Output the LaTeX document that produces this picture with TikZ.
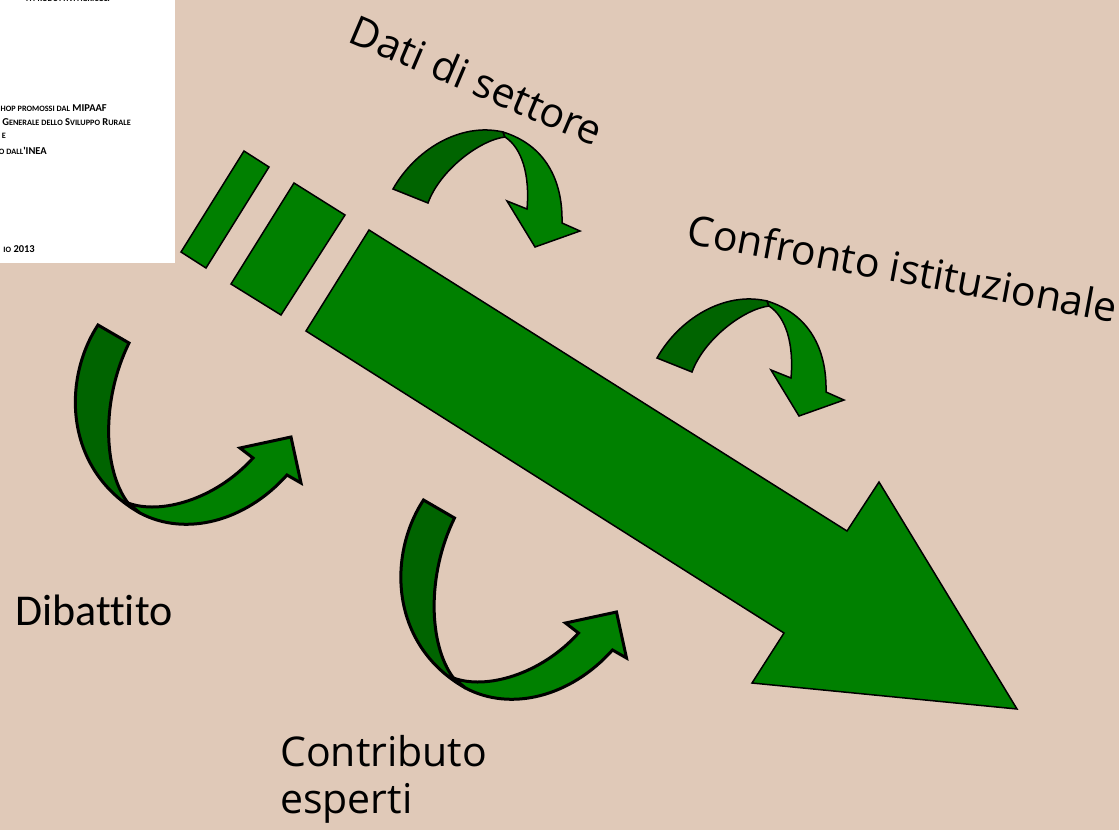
\documentclass[tikz,border=0pt]{standalone}
\usepackage{fontspec}
\setmainfont{Open Sans}
\newfontfamily\carlito[Ligatures=NoCommon]{Carlito}
\definecolor{bg}{RGB}{224,201,184}
\definecolor{grn}{RGB}{0,128,0}
\definecolor{dgrn}{RGB}{0,100,0}
\newcommand\smc[1]{{\fontsize{8.2}{8.2}\selectfont #1}}
\newcommand\topcurl[1]{%
  \filldraw[backside,#1] (393,189) .. controls (415,150) and (460,122) .. (503,132)
    -- (505,137) .. controls (480,140) and (440,170) .. (428,203) -- cycle;
  \filldraw[frontside,#1] (503,132) .. controls (545,145) and (563,180) .. (562,223)
    -- (580,231) -- (535,247) -- (507,201) -- (527,209)
    .. controls (530,175) and (522,148) .. (505,137) -- cycle;
}
\newcommand\lowcurl[1]{%
  \filldraw[backside,#1] (98,325) .. controls (62,380) and (64,470) .. (140,513)
    -- (128,503) .. controls (103,470) and (101,400) .. (129,343) -- cycle;
  \filldraw[frontside,#1] (128,503) .. controls (160,515) and (215,500) .. (253,458)
    -- (240,448) -- (291,437) -- (301,483) -- (287,475)
    .. controls (245,522) and (185,537) .. (140,513) -- cycle;
}
\tikzset{
  outl/.style={draw=black, line width=1.5pt, line join=miter},
  backside/.style={outl, fill=dgrn},
  frontside/.style={outl, fill=grn},
  heavy/.style={line width=3pt},
  thin/.style={line width=1.5pt},
  txt/.style={inner sep=0pt, font=\fontsize{41}{41}\selectfont},
  boxtxt/.style={inner sep=0pt, anchor=base east, font=\carlito\bfseries\fontsize{10.5}{10.5}\selectfont},
}
\begin{document}
\begin{tikzpicture}[x=1pt,y=-1pt]
\useasboundingbox (0,0) rectangle (1119,830);
\fill[bg] (0,0) rectangle (1119,830);
% white document excerpt
\fill[white] (0,0) rectangle (175,263);
\begin{scope}
  \clip (0,0) rectangle (175,263);
  \node[boxtxt] (l0) at (110,1) {\smc{A PRODUTTIVI AGRICOLI}};
  \node[boxtxt] (l1) at (107,111) {\smc{HOP PROMOSSI DAL} MIPAAF};
  \node[boxtxt] (l2) at (131,125) {\smc{E} G\smc{ENERALE DELLO} S\smc{VILUPPO} R\smc{URALE}};
  \node[boxtxt] (l3) at (6,138) {\smc{E}};
  \node[boxtxt] (l4) at (47,154) {\smc{O DALL}'INEA};
  \node[boxtxt] (l5) at (35,252) {\smc{IO} 2013};
\end{scope}
% bars and main arrow
\filldraw[frontside] (244,151) -- (269,167) -- (206,268) -- (181,252) -- cycle;
\filldraw[frontside] (294,183) -- (345,215) -- (281,315) -- (231,284) -- cycle;
\filldraw[frontside] (369,230) -- (847,531) -- (879,482) -- (1017,709)
  -- (752,683) -- (784,633) -- (306,331) -- cycle;
% curved arrows
\topcurl{thin}
\begin{scope}[shift={(264,169)}]
  \topcurl{thin}
\end{scope}
\lowcurl{heavy}
\begin{scope}[shift={(325.5,175)}]
  \lowcurl{heavy}
\end{scope}
% labels
\node[txt, rotate=-23, anchor=base] (dati) at (471,94) {Dati di settore};
\node[txt, rotate=-10.5, anchor=base] (confronto) at (900,283) {Confronto istituzionale};
\node[inner sep=0pt, anchor=base west, font=\carlito\fontsize{44}{44}\selectfont] (dibattito) at (15,625) {Dibattito};
\node[txt, anchor=base west] (contrib) at (280,766) {Contributo};
\node[txt, anchor=base west] (esperti) at (280,813) {esperti};
\end{tikzpicture}
\end{document}
